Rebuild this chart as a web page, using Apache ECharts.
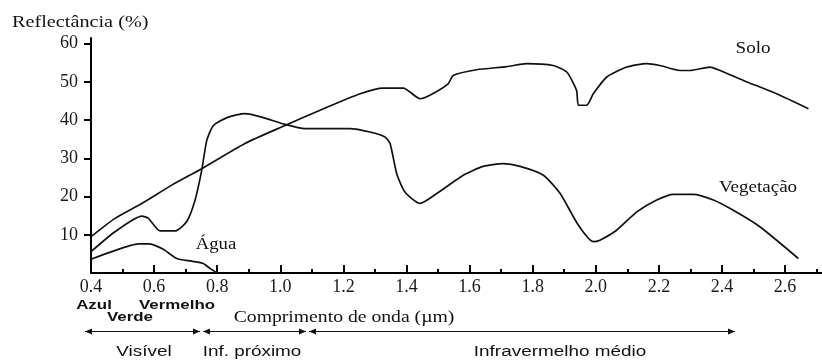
<!DOCTYPE html>
<html>
<head>
<meta charset="utf-8">
<script src="https://cdn.jsdelivr.net/npm/echarts@6/dist/echarts.min.js"></script>
<style>
html,body{margin:0;padding:0;background:#fff;}
#chart{width:822px;height:360px;}
</style>
</head>
<body>
<div id="chart"></div>
<script>
// Wavelength (µm) and reflectance (%)
const soloWl  = [0.40, 0.476, 0.561, 0.656, 0.751, 0.888, 1.015, 1.126, 1.253, 1.326, 1.39, 1.443, 1.474, 1.532, 1.548, 1.622, 1.718, 1.781, 1.865, 1.908, 1.939, 1.945, 1.971, 1.992, 2.035, 2.098, 2.161, 2.203, 2.267, 2.299, 2.362, 2.394, 2.468, 2.573, 2.674];
const soloRef = [9.5, 14.3, 18.2, 23.0, 27.3, 33.9, 38.6, 42.6, 46.9, 48.4, 48.4, 45.6, 46.5, 49.5, 51.7, 53.2, 54.0, 54.8, 54.3, 52.6, 47.8, 43.9, 43.9, 46.9, 51.3, 53.9, 54.8, 54.3, 53.0, 53.0, 53.9, 53.0, 50.4, 46.9, 43.0];

const vegWl  = [0.40, 0.476, 0.561, 0.582, 0.619, 0.666, 0.703, 0.73, 0.751, 0.767, 0.788, 0.835, 0.888, 0.941, 1.015, 1.078, 1.173, 1.221, 1.284, 1.332, 1.348, 1.369, 1.395, 1.443, 1.496, 1.58, 1.643, 1.707, 1.76, 1.834, 1.887, 1.945, 1.992, 2.013, 2.066, 2.13, 2.193, 2.246, 2.309, 2.373, 2.436, 2.52, 2.642];
const vegRef = [5.6, 10.8, 14.9, 14.3, 11.0, 11.0, 13.4, 19.1, 26.9, 34.7, 38.6, 40.8, 41.7, 40.8, 38.9, 37.8, 37.8, 37.8, 36.9, 35.6, 33.9, 26.0, 21.2, 18.2, 20.8, 25.6, 27.9, 28.6, 27.9, 25.6, 20.8, 12.5, 8.2, 8.6, 11.2, 16.0, 19.1, 20.6, 20.6, 19.1, 16.4, 12.1, 3.8];

const aguaWl  = [0.40, 0.466, 0.55, 0.582, 0.629, 0.672, 0.719, 0.756, 0.777, 0.80];
const aguaRef = [3.6, 5.6, 7.6, 7.6, 6.2, 3.8, 3.1, 2.5, 1.2, 0.0];

// Axis ticks / labels
const xMajorTicks = [0.4, 0.6, 0.8, 1.0, 1.2, 1.4, 1.6, 1.8, 2.0, 2.2, 2.4, 2.6];
const xMinorTicks = [0.5, 0.7, 0.9, 1.1, 1.3, 1.5, 1.7, 1.9, 2.1, 2.3, 2.5, 2.7];
const yTicks = [10, 20, 30, 40, 50, 60];

const seriesNames = ['Solo', 'Vegetação', 'Água'];
const bandLabels = ['Azul', 'Vermelho', 'Verde'];
const regionLabels = ['Visível', 'Inf. próximo', 'Infravermelho médio'];
const yTitle = 'Reflectância (%)';
const xTitle = 'Comprimento de onda (µm)';

const zip = (a, b) => a.map((v, i) => [v, b[i]]);

const SERIF = '"Liberation Serif","Times New Roman",serif';
const SANS = '"Liberation Sans",Arial,sans-serif';

function txt(text, x, y, font, size, opts) {
  opts = opts || {};
  return {
    type: 'text', x: x, y: y, scaleX: opts.scaleX || 1, silent: true,
    style: {
      text: text, fill: opts.color || '#111', font: (opts.weight || 'normal') + ' ' + size + 'px ' + font,
      align: opts.align || 'center', verticalAlign: 'middle'
    }
  };
}
function arrow(x1, x2, y) {
  const h = 7, w = 3;
  return [
    { type: 'line', silent: true, shape: { x1: x1, y1: y, x2: x2, y2: y }, style: { stroke: '#111', lineWidth: 1.2 } },
    { type: 'polygon', silent: true, shape: { points: [[x1, y], [x1 + h, y - w], [x1 + h, y + w]] }, style: { fill: '#111' } },
    { type: 'polygon', silent: true, shape: { points: [[x2, y], [x2 - h, y - w], [x2 - h, y + w]] }, style: { fill: '#111' } }
  ];
}

const chart = echarts.init(document.getElementById('chart'), null, { renderer: 'canvas' });

const lineStyle = { color: '#111', width: 1.7 };
const option = {
  animation: false,
  backgroundColor: '#fff',
  grid: { left: 91, right: 0, top: 38, bottom: 87, containLabel: false },
  xAxis: [
    {
      type: 'value', min: 0.4, max: 2.717, interval: 0.1, position: 'bottom',
      axisLine: { show: true, lineStyle: { color: '#000', width: 2 } },
      axisTick: { show: true, inside: true, length: 4, lineStyle: { color: '#000', width: 2 }, customValues: xMinorTicks },
      axisLabel: { show: false },
      splitLine: { show: false }
    },
    {
      type: 'value', min: 0.4, max: 2.717, interval: 0.2, position: 'bottom',
      axisLine: { show: false },
      axisTick: { show: true, inside: true, length: 8, lineStyle: { color: '#000', width: 2 }, customValues: xMajorTicks },
      axisLabel: {
        show: true, customValues: xMajorTicks, margin: 5,
        color: '#1a1a1a', fontFamily: SERIF, fontSize: 18,
        formatter: v => v.toFixed(1)
      },
      splitLine: { show: false }
    }
  ],
  yAxis: {
    type: 'value', min: 0, max: 61.5, interval: 10,
    axisLine: { show: true, lineStyle: { color: '#000', width: 2 } },
    axisTick: { show: true, inside: false, length: 7, lineStyle: { color: '#000', width: 2 }, customValues: yTicks },
    axisLabel: { show: true, customValues: yTicks, margin: 13, color: '#1a1a1a', fontFamily: SERIF, fontSize: 18 },
    splitLine: { show: false }
  },
  series: [
    { name: seriesNames[0], type: 'line', xAxisIndex: 0, data: zip(soloWl, soloRef), showSymbol: false, smooth: 0.2, lineStyle: lineStyle },
    { name: seriesNames[1], type: 'line', xAxisIndex: 0, data: zip(vegWl, vegRef), showSymbol: false, smooth: 0.2, lineStyle: lineStyle },
    { name: seriesNames[2], type: 'line', xAxisIndex: 0, data: zip(aguaWl, aguaRef), showSymbol: false, smooth: 0.2, lineStyle: lineStyle }
  ],
  graphic: [].concat(
    [
      txt(yTitle, 12, 23, SERIF, 17, { align: 'left', scaleX: 1.19 }),
      txt(seriesNames[0], 753, 49, SERIF, 17, { scaleX: 1.12 }),
      txt(seriesNames[1], 758, 188, SERIF, 17, { scaleX: 1.12 }),
      txt(seriesNames[2], 216, 245, SERIF, 17, { scaleX: 1.1 }),
      txt(bandLabels[0], 94, 305, SANS, 13, { weight: 'bold', scaleX: 1.3 }),
      txt(bandLabels[1], 177, 305, SANS, 13, { weight: 'bold', scaleX: 1.3 }),
      txt(bandLabels[2], 130, 317, SANS, 13, { weight: 'bold', scaleX: 1.3 }),
      txt(xTitle, 344, 318, SERIF, 16, { scaleX: 1.23 }),
      txt(regionLabels[0], 144, 352, SANS, 14, { scaleX: 1.35 }),
      txt(regionLabels[1], 252, 352, SANS, 14, { scaleX: 1.35 }),
      txt(regionLabels[2], 560, 352, SANS, 14, { scaleX: 1.35 })
    ],
    arrow(85, 200, 331.5),
    arrow(203, 306, 331.5),
    arrow(309, 735, 331.5)
  )
};
chart.setOption(option);
</script>
</body>
</html>
